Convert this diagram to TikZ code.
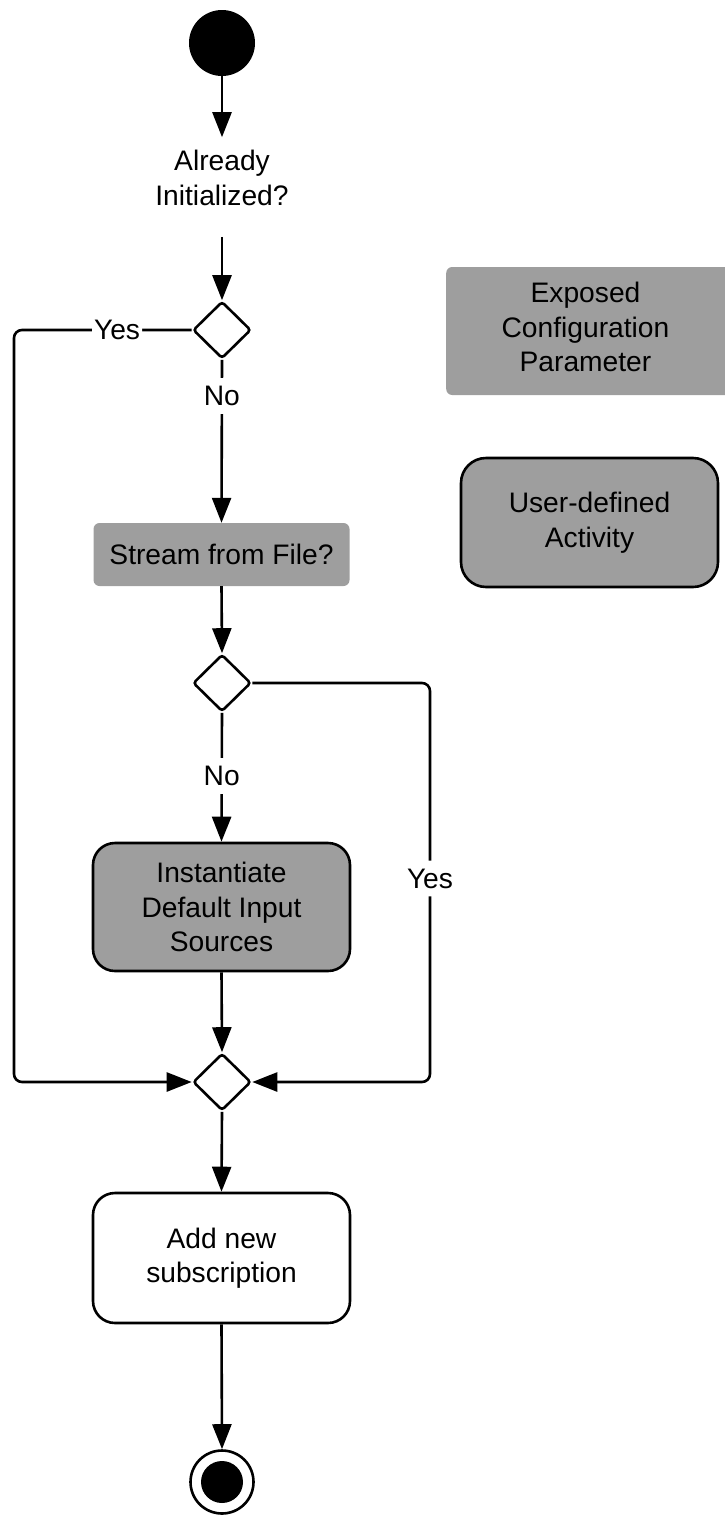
\documentclass[tikz,border=0pt]{standalone}
\usepackage{fontspec}
\setmainfont{Liberation Sans}
\usetikzlibrary{shapes.geometric,arrows.meta}
\definecolor{boxgray}{HTML}{9E9E9E}
\begin{document}
\begin{tikzpicture}[x=1pt,y=-1pt,
  every node/.style={font=\fontsize{28.2}{34.5}\selectfont, align=center},
  flow/.style={line width=2.6pt, -{Triangle[length=25pt,width=19pt]}},
  lbl/.style={fill=white, inner xsep=2pt, inner ysep=8pt},
  startnode/.style={circle, fill=black, minimum size=66pt, inner sep=0pt},
  stopnode/.style={circle, draw, fill=white, line width=2.6pt, minimum size=63pt, inner sep=0pt,
    path picture={\fill[black] (path picture bounding box.center) circle (21pt);}},
  decision/.style={diamond, draw, fill=white, line width=2.6pt, minimum width=58pt,
    minimum height=57pt, inner sep=0pt, rounded corners=3pt},
  param/.style={rectangle, fill=boxgray, rounded corners=6pt, inner sep=0pt},
  activity/.style={rectangle, draw, line width=2.6pt, rounded corners=22pt, inner sep=0pt,
    minimum width=257pt, minimum height=128pt},
]
\useasboundingbox (0,0) rectangle (725,1515);

% main column
\node[startnode] (start) at (222,43) {};
\node[inner sep=0pt] (q1) at (222,178) {Already\\Initialized?};
\node[decision] (d1) at (222,330) {};
\node[param, minimum width=256pt, minimum height=63pt] (stream) at (221.5,554.5) {Stream from File?};
\node[decision] (d2) at (222,683) {};
\node[activity, fill=boxgray] (inst) at (221.5,907) {Instantiate\\Default Input\\Sources};
\node[decision] (d3) at (222,1082) {};
\node[activity, fill=white, minimum height=130pt] (add) at (221.5,1258) {Add new\\subscription};
\node[stopnode] (stop) at (222,1482) {};

% legend
\node[param, minimum width=295pt, minimum height=128pt, anchor=west] (exposed) at (446,331) {};
\node[inner sep=0pt] (exposedtext) at (585.5,327) {Exposed\\Configuration\\Parameter};
\node[activity, fill=boxgray, rounded corners=25pt, minimum height=129pt] (userdef) at (589.5,522.5) {User-defined\\Activity};

% routing points
\coordinate (lt) at (14,330);
\coordinate (lb) at (14,1082);
\coordinate (rt) at (430,683);
\coordinate (rb) at (430,1082);

% connectors
\draw[flow, shorten >=13pt] (start) -- (q1);
\draw[flow, shorten <=31pt] (q1) -- (d1);
\draw[flow] (d1.south) -- node[lbl, pos=0.22] {No} (stream.north);
\draw[flow] (stream.south) -- (d2.north);
\draw[flow] (d2.south) -- node[lbl, pos=0.49] {No} (inst.north);
\draw[flow] (inst.south) -- (d3.north);
\draw[flow] (d3.south) -- (add.north);
\draw[flow] (add.south) -- (stop.north);
\draw[flow, rounded corners=8pt] (d1.west) -- node[lbl, pos=0.42, inner ysep=2pt] {Yes} (lt) -- (lb) -- (d3.west);
\draw[flow, rounded corners=8pt] (d2.east) -- (rt) -- node[lbl, pos=0.49, inner xsep=1pt] {Yes} (rb) -- (d3.east);
\end{tikzpicture}
\end{document}
